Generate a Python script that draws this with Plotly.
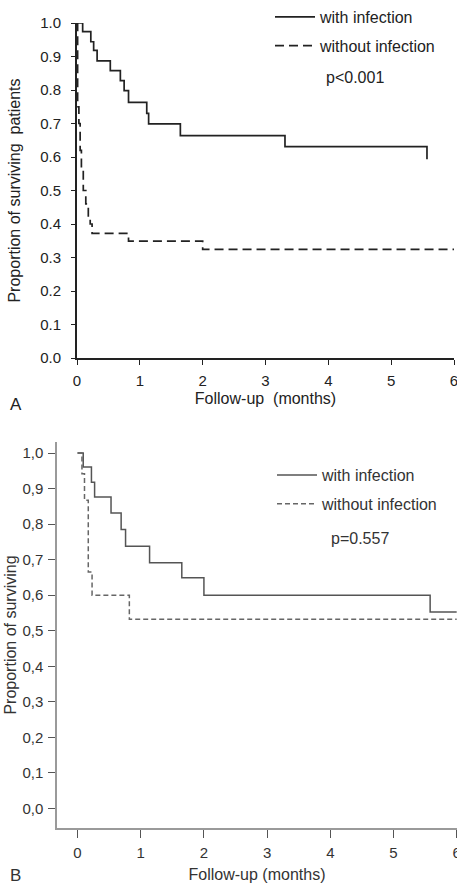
import plotly.graph_objects as go

# ---------------- data ----------------
# Panel A
a_with_t = [0, 0.09, 0.22, 0.265, 0.32, 0.53, 0.69, 0.75, 0.82, 1.11, 1.14, 1.645, 3.31, 5.57]
a_with_s = [1.0, 0.974, 0.944, 0.918, 0.887, 0.858, 0.828, 0.798, 0.763, 0.730, 0.699, 0.664, 0.631, 0.593]
a_without_t = [0, 0.01, 0.03, 0.05, 0.07, 0.10, 0.14, 0.18, 0.21, 0.24, 0.82, 2.0, 6.0]
a_without_s = [1.0, 0.75, 0.70, 0.62, 0.56, 0.50, 0.46, 0.42, 0.40, 0.372, 0.349, 0.324, 0.324]

# Panel B
b_with_t = [0, 0.09, 0.22, 0.27, 0.53, 0.69, 0.76, 1.14, 1.65, 2.0, 5.58, 6.0]
b_with_s = [1.0, 0.961, 0.918, 0.876, 0.831, 0.785, 0.738, 0.691, 0.649, 0.600, 0.553, 0.553]
b_without_t = [0, 0.07, 0.11, 0.17, 0.23, 0.82, 6.0]
b_without_s = [1.0, 0.942, 0.867, 0.665, 0.600, 0.532, 0.532]

x_ticks = [0, 1, 2, 3, 4, 5, 6]
y_ticks = [0.0, 0.1, 0.2, 0.3, 0.4, 0.5, 0.6, 0.7, 0.8, 0.9, 1.0]
a_y_labels = ["0.0", "0.1", "0.2", "0.3", "0.4", "0.5", "0.6", "0.7", "0.8", "0.9", "1.0"]
b_y_labels = ["0,0", "0,1", "0,2", "0,3", "0,4", "0,5", "0,6", "0,7", "0,8", "0,9", "1,0"]
series_names = ["with infection", "without infection"]
p_values = ["p<0.001", "p=0.557"]

# ---------------- figure ----------------
W, H = 457, 887
FONT = "Liberation Sans, Arial, sans-serif"
A_COL = "#222222"
B_TXT = "#333333"
B_AX = "#9a9a9a"

fig = go.Figure()

fig.add_trace(go.Scatter(x=a_with_t, y=a_with_s, mode="lines", line=dict(shape="hv", color=A_COL, width=1.7),
                         name=series_names[0], xaxis="x", yaxis="y", legend="legend", legendgroup="a1"))
fig.add_trace(go.Scatter(x=a_without_t, y=a_without_s, mode="lines", line=dict(shape="hv", color=A_COL, width=1.7, dash="9px,5px"),
                         name=series_names[1], xaxis="x", yaxis="y", legend="legend", legendgroup="a2"))
fig.add_trace(go.Scatter(x=b_with_t, y=b_with_s, mode="lines", line=dict(shape="hv", color="#555555", width=1.5),
                         name=series_names[0], xaxis="x2", yaxis="y2", legend="legend2", legendgroup="b1"))
fig.add_trace(go.Scatter(x=b_without_t, y=b_without_s, mode="lines", line=dict(shape="hv", color="#666666", width=1.5, dash="5px,3px"),
                         name=series_names[1], xaxis="x2", yaxis="y2", legend="legend2", legendgroup="b2"))


def px_x(p):
    return p / W


def px_y(p):
    return 1 - p / H


tickfont = dict(family=FONT, size=15, color=A_COL)
titlefont = dict(family=FONT, size=16, color=A_COL)
b_tickfont = dict(family=FONT, size=15, color=B_TXT)
b_titlefont = dict(family=FONT, size=16, color=B_TXT)

fig.update_layout(
    width=W, height=H,
    margin=dict(l=0, r=0, t=0, b=0, autoexpand=False),
    paper_bgcolor="white", plot_bgcolor="white",
    font=dict(family=FONT, size=16, color=A_COL),
    xaxis=dict(domain=[px_x(77), px_x(454)], range=[0, 6], anchor="y", automargin=False,
               tickvals=x_ticks, ticks="outside", ticklen=5, tickcolor=A_COL, tickwidth=1.3,
               ticklabeloverflow="allow", ticklabelstandoff=3,
               showline=True, linecolor=A_COL, linewidth=1.7, showgrid=False, zeroline=False,
               tickfont=tickfont, title=dict(text="Follow-up  (months)", font=titlefont, standoff=5)),
    yaxis=dict(domain=[px_y(358), px_y(23)], range=[0, 1], anchor="x", automargin=False,
               tickvals=y_ticks, ticktext=a_y_labels, ticks="outside", ticklen=4, tickcolor=A_COL, tickwidth=1.3,
               ticklabeloverflow="allow", ticklabelstandoff=7,
               showline=True, linecolor=A_COL, linewidth=1.7, showgrid=False, zeroline=False,
               tickfont=tickfont, title=dict(text="Proportion of surviving  patients", font=titlefont, standoff=16)),
    xaxis2=dict(domain=[px_x(57), 1.0], range=[-0.325, 6.005], anchor="y2", automargin=False,
                tickvals=x_ticks, ticks="outside", ticklen=8, tickcolor="#555555", tickwidth=1.3,
                ticklabeloverflow="allow", ticklabelstandoff=2,
                showline=True, linecolor=B_AX, linewidth=1.5, showgrid=False, zeroline=False,
                tickfont=b_tickfont,
                title=dict(text="Follow-up (months)", font=b_titlefont, standoff=9)),
    yaxis2=dict(domain=[px_y(828), px_y(442)], range=[-0.055, 1.031], anchor="x2", automargin=False,
                tickvals=y_ticks, ticktext=b_y_labels, ticks="outside", ticklen=7, tickcolor="#555555", tickwidth=1.3,
                ticklabeloverflow="allow", ticklabelstandoff=2,
                showline=True, linecolor=B_AX, linewidth=1.5, showgrid=False, zeroline=False,
                tickfont=b_tickfont,
                title=dict(text="Proportion of surviving", font=b_titlefont, standoff=2)),
    legend=dict(x=px_x(270), y=px_y(0), xanchor="left", yanchor="top", bgcolor="rgba(0,0,0,0)",
                font=dict(family=FONT, size=16, color=A_COL), traceorder="grouped", tracegroupgap=5,
                itemwidth=40),
    legend2=dict(x=px_x(272), y=px_y(458), xanchor="left", yanchor="top", bgcolor="rgba(0,0,0,0)",
                 font=dict(family=FONT, size=16, color=B_TXT), traceorder="grouped", tracegroupgap=5,
                 itemwidth=40),
    annotations=[
        dict(text=p_values[0], xref="paper", yref="paper", x=px_x(324), y=px_y(77), xanchor="left", yanchor="middle",
             showarrow=False, font=dict(family=FONT, size=16, color=A_COL)),
        dict(text=p_values[1], xref="paper", yref="paper", x=px_x(329), y=px_y(538), xanchor="left", yanchor="middle",
             showarrow=False, font=dict(family=FONT, size=16, color=B_TXT)),
        dict(text="A", xref="paper", yref="paper", x=px_x(8), y=px_y(405), xanchor="left", yanchor="middle",
             showarrow=False, font=dict(family=FONT, size=17, color=A_COL)),
        dict(text="B", xref="paper", yref="paper", x=px_x(8), y=px_y(875), xanchor="left", yanchor="middle",
             showarrow=False, font=dict(family=FONT, size=17, color=B_TXT)),
    ],
)

fig.write_html("out.html")
